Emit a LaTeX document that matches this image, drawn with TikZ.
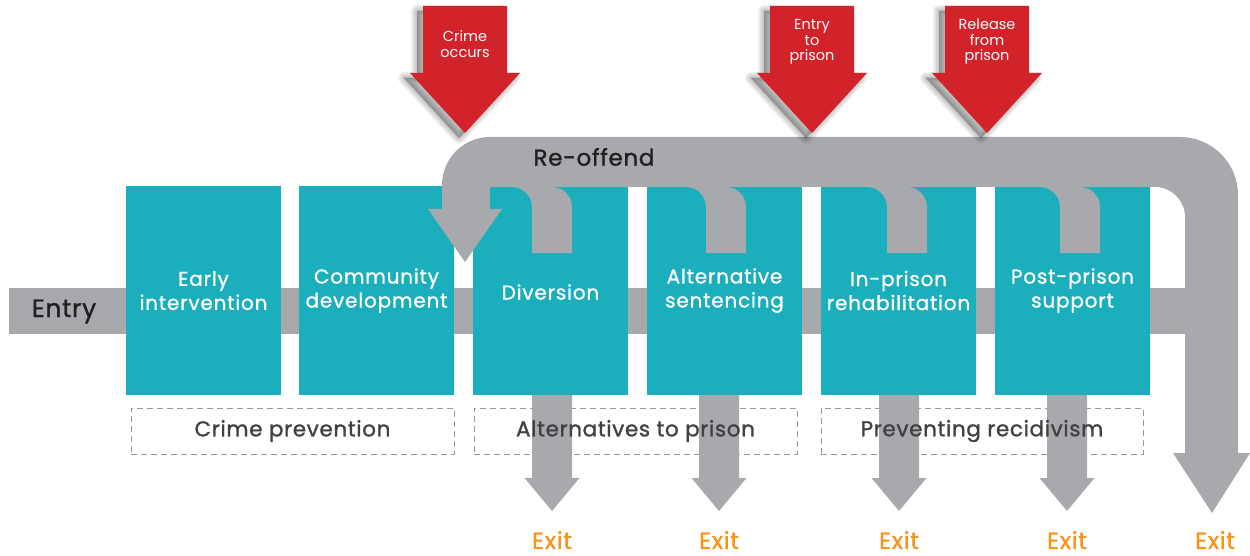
\documentclass[tikz,border=0pt]{standalone}
\usepackage{fontspec}
\setmainfont{Poppins}
\newfontfamily\popmed[FakeBold=1.2,LetterSpace=3]{Poppins}
\newfontfamily\popbox[FakeBold=0.9,LetterSpace=4]{Poppins}
\definecolor{cteal}{HTML}{1BAFBD}
\definecolor{cgray}{HTML}{A7A9AC}
\definecolor{cred}{HTML}{D2232A}
\definecolor{corange}{HTML}{F7941D}
\definecolor{cdark}{HTML}{231F20}
\definecolor{clabel}{HTML}{414042}
\definecolor{cdash}{HTML}{9A9A9A}
\begin{document}
\begin{tikzpicture}[x=1pt,y=-1pt,
  stagebox/.style={fill=cteal, minimum width=155pt, minimum height=209pt, inner sep=0pt},
  stagetext/.style={text=white, align=center, font=\popbox\fontsize{20}{24}\selectfont},
  groupframe/.style={draw=cdash, dash pattern=on 6pt off 4pt, line width=0.9pt,
    minimum width=323pt, minimum height=46pt, inner sep=0pt},
  grouplabel/.style={text=clabel, font=\popmed\fontsize{21.5}{24}\selectfont},
  exitlabel/.style={text=corange, font=\popmed\fontsize{23.5}{26}\selectfont},
  redtext/.style={text=white, align=center, font=\fontsize{14.5}{15.5}\selectfont},
  redarrow/.style={fill=cred},
  softshadow/.style={fill=black, draw=black, line join=round, opacity=0.06},
  flow/.style={fill=cgray}
]
\useasboundingbox (0,0) rectangle (1250,556);

% entry bar
\fill[flow] (9,288) rectangle (1190,334);

% stage boxes
\node[stagebox] (b1) at (203.5,290.5) {};
\node[stagebox] (b2) at (376.5,290.5) {};
\node[stagebox] (b3) at (550.5,290.5) {};
\node[stagebox] (b4) at (724.5,290.5) {};
\node[stagebox] (b5) at (898.5,290.5) {};
\node[stagebox] (b6) at (1072.5,290.5) {};

% group frames
\node[groupframe] (g1) at (292.5,431) {};
\node[groupframe] (g2) at (635.5,431) {};
\node[groupframe, minimum width=322pt] (g3) at (982,431) {};

% exit arrows
\foreach \c in {552,719,899,1067}{
  \fill[flow] ({\c-20},395) -- ({\c+20},395) -- ({\c+20},478) -- ({\c+27.5},478)
    -- (\c,511) -- ({\c-27.5},478) -- ({\c-20},478) -- cycle;
}

% re-offend loop
\fill[flow] (442,209) -- (442,185)
  .. controls (442,158.5) and (463.5,137) .. (490,137)
  -- (1180,137)
  .. controls (1212,137) and (1238,163) .. (1238,195)
  -- (1238,453) -- (1250,453) -- (1212,513) -- (1173,453) -- (1185,453)
  -- (1185,217)
  .. controls (1185,200.4) and (1171.6,187) .. (1155,187)
  -- (490,187) -- (490,209) -- (502,209) -- (465,262) -- (428,209) -- cycle;

% hooks
\foreach \c in {552,726,907,1080}{
  \fill[flow] ({\c-40},186) -- ({\c-40},187)
    .. controls ({\c-29},187) and ({\c-20},196) .. ({\c-20},207)
    -- ({\c-20},253) -- ({\c+20},253) -- ({\c+20},207)
    .. controls ({\c+20},196) and ({\c+11},187) .. (\c,187) -- (\c,186) -- cycle;
}

% red arrows with soft shadow
\foreach \c in {465,812,987}{
  \foreach \w in {12,9,6,3,0.5}{
    \filldraw[softshadow, line width=\w pt, shift={(-6,5)}]
      ({\c-42},6) -- ({\c+42},6) -- ({\c+42},73) -- ({\c+55},73)
      -- (\c,133) -- ({\c-55},73) -- ({\c-42},73) -- cycle;
  }
  \fill[redarrow] ({\c-42},6) -- ({\c+42},6) -- ({\c+42},73) -- ({\c+55},73)
    -- (\c,133) -- ({\c-55},73) -- ({\c-42},73) -- cycle;
}
\node[redtext] (t1) at (465,44) {Crime\\occurs};
\node[redtext] (t2) at (812,42) {Entry\\to\\prison};
\node[redtext] (t3) at (987,42) {Release\\from\\prison};

% texts
\node[text=cdark, font=\popmed\fontsize{25}{28}\selectfont] (entry) at (64,311.5) {Entry};
\node[text=cdark, font=\popmed\fontsize{23}{26}\selectfont] (reoffend) at (594,157) {Re-offend};

\node[stagetext] (l1) at (b1) {Early\\intervention};
\node[stagetext] (l2) at (b2) {Community\\development};
\node[stagetext] (l3) at (550.5,292) {Diversion};
\node[stagetext] (l4) at (b4) {Alternative\\sentencing};
\node[stagetext] (l5) at (b5) {In-prison\\rehabilitation};
\node[stagetext] (l6) at (b6) {Post-prison\\support};

\node[grouplabel] (gl1) at (g1) {Crime prevention};
\node[grouplabel] (gl2) at (g2) {Alternatives to prison};
\node[grouplabel] (gl3) at (g3) {Preventing recidivism};

\node[exitlabel] (e1) at (552,540) {Exit};
\node[exitlabel] (e2) at (719,540) {Exit};
\node[exitlabel] (e3) at (899,540) {Exit};
\node[exitlabel] (e4) at (1067,540) {Exit};
\node[exitlabel] (e5) at (1215,540) {Exit};
\end{tikzpicture}
\end{document}
